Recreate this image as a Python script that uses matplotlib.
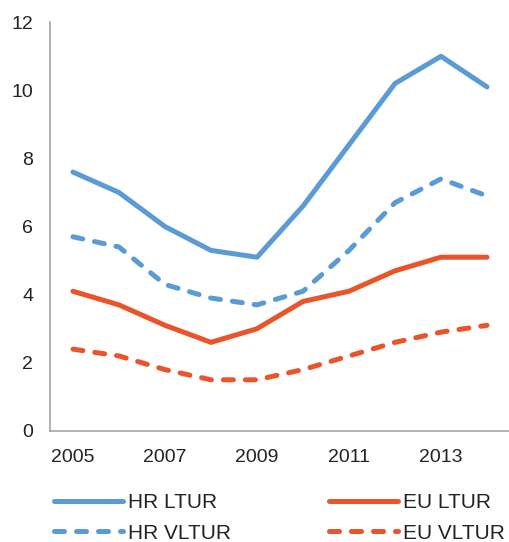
import matplotlib
matplotlib.use("Agg")
import matplotlib.pyplot as plt

plt.rcParams['font.family'] = ['Liberation Sans', 'DejaVu Sans']

# Stope dugotrajne nezaposlenosti (%), HR i EU
years = [2005, 2006, 2007, 2008, 2009, 2010, 2011, 2012, 2013, 2014]
hr_ltur = [7.6, 7.0, 6.0, 5.3, 5.1, 6.6, 8.4, 10.2, 11.0, 10.1]
eu_ltur = [4.1, 3.7, 3.1, 2.6, 3.0, 3.8, 4.1, 4.7, 5.1, 5.1]
hr_vltur = [5.7, 5.4, 4.3, 3.9, 3.7, 4.1, 5.3, 6.7, 7.4, 6.9]
eu_vltur = [2.4, 2.2, 1.8, 1.5, 1.5, 1.8, 2.2, 2.6, 2.9, 3.1]

plava = '#5B9BD5'
narancasta = '#E9542A'

fig = plt.figure(figsize=(5.1, 5.42), dpi=100)
ax = fig.add_axes([0.098, 0.205, 0.902, 0.754])

x = list(range(len(years)))
lw = 3.6
ax.plot(x, hr_ltur, color=plava, lw=lw, label='HR LTUR', solid_capstyle='round')
ax.plot(x, eu_ltur, color=narancasta, lw=lw, label='EU LTUR', solid_capstyle='round')
ax.plot(x, hr_vltur, color=plava, lw=lw, label='HR VLTUR', dashes=(2, 2.4), dash_capstyle='round')
ax.plot(x, eu_vltur, color=narancasta, lw=lw, label='EU VLTUR', dashes=(2, 2.4), dash_capstyle='round')

ax.set_xlim(-0.5, 9.5)
ax.set_ylim(0, 12)
ax.set_yticks(range(0, 13, 2))
ax.set_xticks(x[::2])
ax.set_xticklabels([str(y) for y in years[::2]])
ax.tick_params(axis='both', length=0, labelsize=14, colors='#222222')
ax.tick_params(axis='x', pad=13)
ax.tick_params(axis='y', pad=12)
for s in ['top', 'right']:
    ax.spines[s].set_visible(False)
for s in ['left', 'bottom']:
    ax.spines[s].set_color('#A6A6A6')
    ax.spines[s].set_linewidth(1.2)

h, l = ax.get_legend_handles_labels()
order = [0, 2, 1, 3]
fig.legend([h[i] for i in order], [l[i] for i in order], ncol=2,
           loc='lower left', bbox_to_anchor=(0.07, -0.036), frameon=False,
           fontsize=15, handlelength=3.3, handletextpad=0.25,
           columnspacing=4.7, labelspacing=0.55, labelcolor='#222222')

fig.savefig('out.png', dpi=100)
